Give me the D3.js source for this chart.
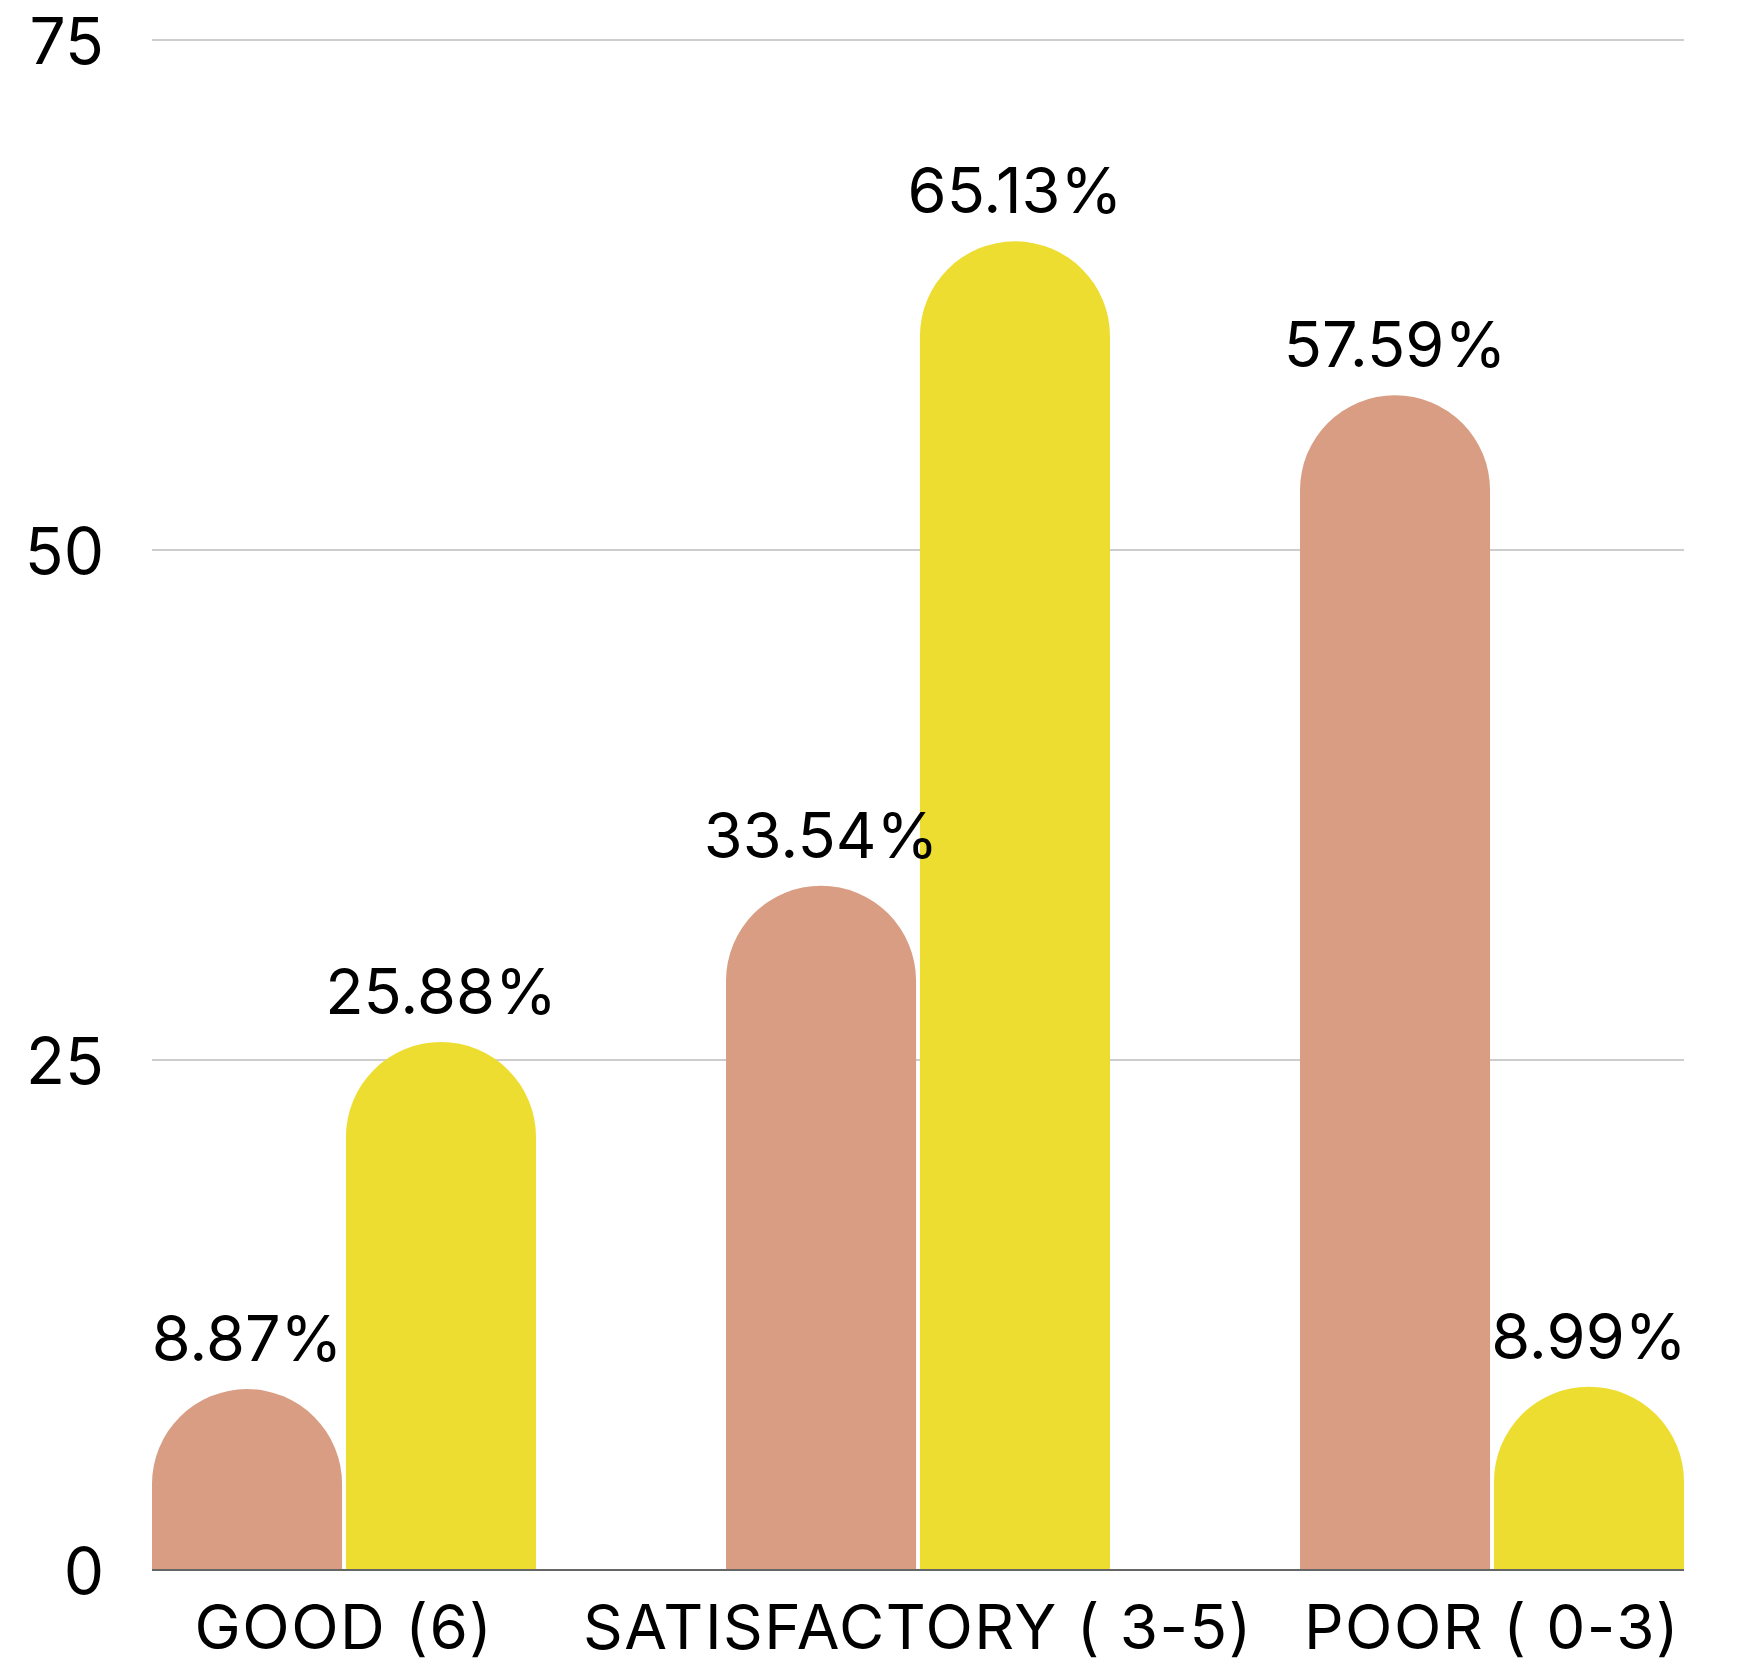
<!doctype html>
<html lang="en">
    <head>
        <meta charset="utf-8">
        <title>Score groups</title>
        <style>
            html, body { margin: 0; padding: 0; background: #fff; }
            svg { display: block; }
            text { font-family: "Inter", "Lato", sans-serif; fill: #000; }
        </style>
    </head>
    <body>
        <div id="chart"></div>

        <script src="https://d3js.org/d3.v7.min.js"></script>
        <script>
            // data
            var categories = ["GOOD (6)", "SATISFACTORY ( 3-5)", "POOR ( 0-3)"];
            var seriesA = [8.87, 33.54, 57.59];
            var seriesB = [25.88, 65.13, 8.99];
            var yTicks = [0, 25, 50, 75];

            var width = 1756, height = 1665;
            var margin = {top: 40, right: 72, bottom: 95, left: 152};

            var svg = d3.select("#chart").append("svg")
                .attr("width", width)
                .attr("height", height);

            var x0 = d3.scaleBand()
                .domain(categories)
                .range([margin.left, width - margin.right])
                .paddingInner(0.331)
                .paddingOuter(0);

            var x1 = d3.scaleBand()
                .domain(["a", "b"])
                .range([0, x0.bandwidth()])
                .paddingInner(0.02);

            var y = d3.scaleLinear()
                .domain([0, 75])
                .range([height - margin.bottom, margin.top]);

            // grid lines
            svg.append("g")
                .selectAll("line")
                .data(yTicks.filter(function(d) { return d > 0; }))
                .enter().append("line")
                .attr("x1", margin.left)
                .attr("x2", width - margin.right)
                .attr("y1", function(d) { return y(d); })
                .attr("y2", function(d) { return y(d); })
                .attr("stroke", "#bdbdbd")
                .attr("stroke-width", 1.5);

            // y axis labels
            var yAxis = d3.axisLeft(y).tickValues(yTicks).tickSize(0).tickPadding(0);
            svg.append("g")
                .attr("transform", "translate(" + (margin.left - 48) + ",0)")
                .call(yAxis)
                .call(function(g) { g.select(".domain").remove(); })
                .selectAll("text")
                .style("font-size", "64px")
                .attr("fill", "#000")
                .attr("dy", "0.36em");

            var colors = {a: "#d89d82", b: "#eddd30"};

            function barPath(left, w, top, base) {
                var r = Math.min(w / 2, base - top);
                return "M" + left + "," + base +
                    "V" + (top + r) +
                    "A" + (w / 2) + "," + r + " 0 0 1 " + (left + w) + "," + (top + r) +
                    "V" + base + "Z";
            }

            var rows = categories.map(function(c, i) {
                return [
                    {cat: c, key: "a", value: seriesA[i]},
                    {cat: c, key: "b", value: seriesB[i]}
                ];
            });
            var bars = d3.merge(rows);

            var g = svg.append("g");
            g.selectAll("path")
                .data(bars)
                .enter().append("path")
                .attr("d", function(d) {
                    return barPath(x0(d.cat) + x1(d.key), x1.bandwidth(), y(d.value), y(0));
                })
                .attr("fill", function(d) { return colors[d.key]; });

            g.selectAll("text.val")
                .data(bars)
                .enter().append("text")
                .attr("class", "val")
                .attr("x", function(d) { return x0(d.cat) + x1(d.key) + x1.bandwidth() / 2; })
                .attr("y", function(d) { return y(d.value) - 28; })
                .attr("text-anchor", "middle")
                .style("font-size", "63px")
                .text(function(d) { return d.value.toFixed(2) + "%"; });

            // baseline
            svg.append("line")
                .attr("x1", margin.left)
                .attr("x2", width - margin.right)
                .attr("y1", y(0))
                .attr("y2", y(0))
                .attr("stroke", "#666")
                .attr("stroke-width", 2);

            // category labels
            var xAxis = d3.axisBottom(x0).tickSize(0).tickPadding(0);
            svg.append("g")
                .attr("transform", "translate(0," + (y(0) + 79) + ")")
                .call(xAxis)
                .call(function(g) { g.select(".domain").remove(); })
                .selectAll("text")
                .attr("dy", 0)
                .attr("fill", "#000")
                .style("font-size", "62px")
                .style("letter-spacing", "1.5px");
        </script>
    </body>
</html>
